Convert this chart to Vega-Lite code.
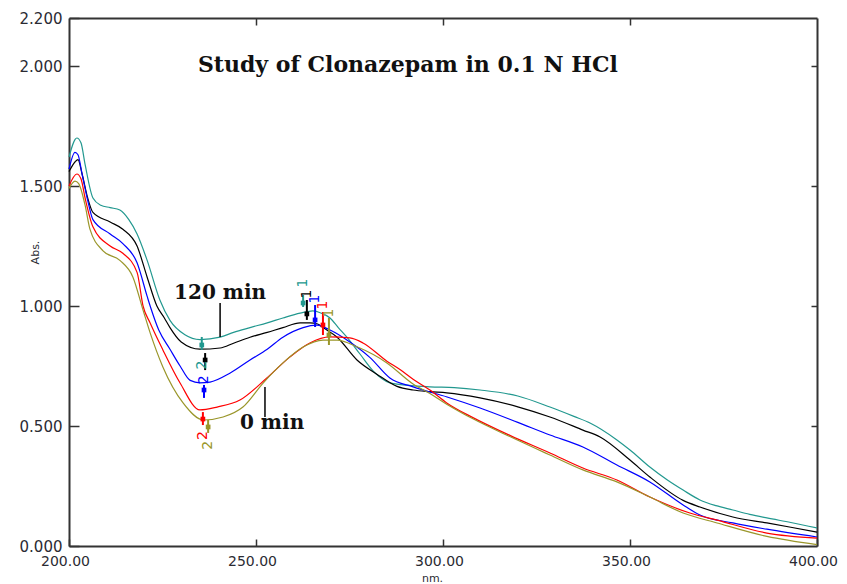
{
  "$schema": "https://vega.github.io/schema/vega-lite/v6.json",
  "width": 748,
  "height": 528,
  "autosize": "none",
  "padding": {"left": 69, "top": 18, "right": 30, "bottom": 38},
  "background": "white",
  "config": {
    "view": {"stroke": null},
    "axis": {
      "grid": false,
      "labelFlush": false,
      "domainColor": "#333333",
      "domainWidth": 2,
      "tickColor": "#333333",
      "tickWidth": 1.5,
      "labelFont": "DejaVu Sans",
      "labelFontSize": 15,
      "labelColor": "#2b2b33",
      "titleFont": "DejaVu Sans",
      "titleFontWeight": "normal",
      "titleColor": "#2b2b33"
    }
  },
  "datasets": {
    "spectra": [
      {"series": "120 min", "nm": 200.0, "abs": 1.62},
      {"series": "120 min", "nm": 202.1, "abs": 1.70},
      {"series": "120 min", "nm": 203.2, "abs": 1.68},
      {"series": "120 min", "nm": 204.3, "abs": 1.59},
      {"series": "120 min", "nm": 206.4, "abs": 1.45},
      {"series": "120 min", "nm": 208.5, "abs": 1.42},
      {"series": "120 min", "nm": 211.0, "abs": 1.41},
      {"series": "120 min", "nm": 213.6, "abs": 1.40},
      {"series": "120 min", "nm": 216.0, "abs": 1.36},
      {"series": "120 min", "nm": 218.2, "abs": 1.30},
      {"series": "120 min", "nm": 220.9, "abs": 1.19},
      {"series": "120 min", "nm": 224.3, "abs": 1.025},
      {"series": "120 min", "nm": 227.0, "abs": 0.94},
      {"series": "120 min", "nm": 231.0, "abs": 0.88},
      {"series": "120 min", "nm": 235.0, "abs": 0.86},
      {"series": "120 min", "nm": 240.4, "abs": 0.87},
      {"series": "120 min", "nm": 244.0, "abs": 0.89},
      {"series": "120 min", "nm": 248.4, "abs": 0.91},
      {"series": "120 min", "nm": 253.0, "abs": 0.93},
      {"series": "120 min", "nm": 257.2, "abs": 0.95},
      {"series": "120 min", "nm": 261.8, "abs": 0.97},
      {"series": "120 min", "nm": 265.2, "abs": 0.98},
      {"series": "120 min", "nm": 267.5, "abs": 0.97},
      {"series": "120 min", "nm": 269.8, "abs": 0.95},
      {"series": "120 min", "nm": 272.0, "abs": 0.91},
      {"series": "120 min", "nm": 274.3, "abs": 0.87},
      {"series": "120 min", "nm": 277.8, "abs": 0.80},
      {"series": "120 min", "nm": 281.3, "abs": 0.73},
      {"series": "120 min", "nm": 285.8, "abs": 0.68},
      {"series": "120 min", "nm": 290.4, "abs": 0.67},
      {"series": "120 min", "nm": 296.5, "abs": 0.663},
      {"series": "120 min", "nm": 303.0, "abs": 0.66},
      {"series": "120 min", "nm": 309.9, "abs": 0.65},
      {"series": "120 min", "nm": 320.0, "abs": 0.625},
      {"series": "120 min", "nm": 328.6, "abs": 0.579},
      {"series": "120 min", "nm": 335.0, "abs": 0.54},
      {"series": "120 min", "nm": 339.3, "abs": 0.5125},
      {"series": "120 min", "nm": 346.5, "abs": 0.442},
      {"series": "120 min", "nm": 350.0, "abs": 0.40},
      {"series": "120 min", "nm": 355.3, "abs": 0.329},
      {"series": "120 min", "nm": 360.0, "abs": 0.275},
      {"series": "120 min", "nm": 364.2, "abs": 0.233},
      {"series": "120 min", "nm": 368.7, "abs": 0.192},
      {"series": "120 min", "nm": 373.0, "abs": 0.168},
      {"series": "120 min", "nm": 377.5, "abs": 0.15},
      {"series": "120 min", "nm": 382.0, "abs": 0.132},
      {"series": "120 min", "nm": 386.6, "abs": 0.117},
      {"series": "120 min", "nm": 393.0, "abs": 0.098},
      {"series": "120 min", "nm": 400.0, "abs": 0.075},

      {"series": "run 4", "nm": 200.0, "abs": 1.56},
      {"series": "run 4", "nm": 201.6, "abs": 1.60},
      {"series": "run 4", "nm": 202.4, "abs": 1.61},
      {"series": "run 4", "nm": 203.5, "abs": 1.55},
      {"series": "run 4", "nm": 205.0, "abs": 1.45},
      {"series": "run 4", "nm": 206.4, "abs": 1.39},
      {"series": "run 4", "nm": 211.0, "abs": 1.35},
      {"series": "run 4", "nm": 214.4, "abs": 1.32},
      {"series": "run 4", "nm": 218.2, "abs": 1.25},
      {"series": "run 4", "nm": 220.9, "abs": 1.12},
      {"series": "run 4", "nm": 223.5, "abs": 1.00},
      {"series": "run 4", "nm": 225.5, "abs": 0.95},
      {"series": "run 4", "nm": 227.0, "abs": 0.91},
      {"series": "run 4", "nm": 230.0, "abs": 0.85},
      {"series": "run 4", "nm": 235.0, "abs": 0.82},
      {"series": "run 4", "nm": 240.4, "abs": 0.825},
      {"series": "run 4", "nm": 244.0, "abs": 0.845},
      {"series": "run 4", "nm": 248.4, "abs": 0.87},
      {"series": "run 4", "nm": 253.0, "abs": 0.89},
      {"series": "run 4", "nm": 257.2, "abs": 0.91},
      {"series": "run 4", "nm": 261.8, "abs": 0.93},
      {"series": "run 4", "nm": 264.4, "abs": 0.93},
      {"series": "run 4", "nm": 266.5, "abs": 0.925},
      {"series": "run 4", "nm": 267.9, "abs": 0.91},
      {"series": "run 4", "nm": 271.7, "abs": 0.87},
      {"series": "run 4", "nm": 277.0, "abs": 0.775},
      {"series": "run 4", "nm": 282.4, "abs": 0.715},
      {"series": "run 4", "nm": 287.7, "abs": 0.665},
      {"series": "run 4", "nm": 292.0, "abs": 0.65},
      {"series": "run 4", "nm": 296.5, "abs": 0.643},
      {"series": "run 4", "nm": 301.0, "abs": 0.638},
      {"series": "run 4", "nm": 309.9, "abs": 0.617},
      {"series": "run 4", "nm": 320.0, "abs": 0.58},
      {"series": "run 4", "nm": 328.6, "abs": 0.5375},
      {"series": "run 4", "nm": 337.4, "abs": 0.483},
      {"series": "run 4", "nm": 342.0, "abs": 0.454},
      {"series": "run 4", "nm": 350.0, "abs": 0.358},
      {"series": "run 4", "nm": 355.3, "abs": 0.2875},
      {"series": "run 4", "nm": 364.2, "abs": 0.19},
      {"series": "run 4", "nm": 368.7, "abs": 0.1625},
      {"series": "run 4", "nm": 377.5, "abs": 0.121},
      {"series": "run 4", "nm": 386.6, "abs": 0.096},
      {"series": "run 4", "nm": 393.0, "abs": 0.078},
      {"series": "run 4", "nm": 400.0, "abs": 0.058},

      {"series": "run 3", "nm": 200.0, "abs": 1.57},
      {"series": "run 3", "nm": 201.6, "abs": 1.64},
      {"series": "run 3", "nm": 202.4, "abs": 1.63},
      {"series": "run 3", "nm": 203.5, "abs": 1.55},
      {"series": "run 3", "nm": 205.0, "abs": 1.44},
      {"series": "run 3", "nm": 206.4, "abs": 1.36},
      {"series": "run 3", "nm": 211.0, "abs": 1.30},
      {"series": "run 3", "nm": 214.4, "abs": 1.26},
      {"series": "run 3", "nm": 218.2, "abs": 1.18},
      {"series": "run 3", "nm": 220.9, "abs": 1.04},
      {"series": "run 3", "nm": 221.7, "abs": 1.00},
      {"series": "run 3", "nm": 224.0, "abs": 0.90},
      {"series": "run 3", "nm": 227.0, "abs": 0.82},
      {"series": "run 3", "nm": 229.7, "abs": 0.75},
      {"series": "run 3", "nm": 232.4, "abs": 0.69},
      {"series": "run 3", "nm": 235.0, "abs": 0.68},
      {"series": "run 3", "nm": 237.7, "abs": 0.683},
      {"series": "run 3", "nm": 243.0, "abs": 0.72},
      {"series": "run 3", "nm": 248.4, "abs": 0.775},
      {"series": "run 3", "nm": 253.0, "abs": 0.82},
      {"series": "run 3", "nm": 257.2, "abs": 0.87},
      {"series": "run 3", "nm": 262.6, "abs": 0.91},
      {"series": "run 3", "nm": 266.3, "abs": 0.92},
      {"series": "run 3", "nm": 269.8, "abs": 0.90},
      {"series": "run 3", "nm": 275.1, "abs": 0.85},
      {"series": "run 3", "nm": 280.5, "abs": 0.785},
      {"series": "run 3", "nm": 285.8, "abs": 0.70},
      {"series": "run 3", "nm": 292.0, "abs": 0.663},
      {"series": "run 3", "nm": 301.1, "abs": 0.621},
      {"series": "run 3", "nm": 309.9, "abs": 0.575},
      {"series": "run 3", "nm": 320.0, "abs": 0.515},
      {"series": "run 3", "nm": 328.6, "abs": 0.4625},
      {"series": "run 3", "nm": 337.4, "abs": 0.4125},
      {"series": "run 3", "nm": 346.5, "abs": 0.3375},
      {"series": "run 3", "nm": 355.3, "abs": 0.267},
      {"series": "run 3", "nm": 364.2, "abs": 0.171},
      {"series": "run 3", "nm": 368.7, "abs": 0.129},
      {"series": "run 3", "nm": 377.5, "abs": 0.096},
      {"series": "run 3", "nm": 386.6, "abs": 0.07},
      {"series": "run 3", "nm": 400.0, "abs": 0.0375},

      {"series": "run 2", "nm": 200.0, "abs": 1.50},
      {"series": "run 2", "nm": 202.1, "abs": 1.55},
      {"series": "run 2", "nm": 203.2, "abs": 1.53},
      {"series": "run 2", "nm": 204.3, "abs": 1.45},
      {"series": "run 2", "nm": 206.4, "abs": 1.33},
      {"series": "run 2", "nm": 211.0, "abs": 1.25},
      {"series": "run 2", "nm": 214.4, "abs": 1.22},
      {"series": "run 2", "nm": 218.2, "abs": 1.14},
      {"series": "run 2", "nm": 219.8, "abs": 1.00},
      {"series": "run 2", "nm": 221.7, "abs": 0.929},
      {"series": "run 2", "nm": 225.1, "abs": 0.817},
      {"series": "run 2", "nm": 229.7, "abs": 0.679},
      {"series": "run 2", "nm": 235.0, "abs": 0.567},
      {"series": "run 2", "nm": 239.6, "abs": 0.579},
      {"series": "run 2", "nm": 245.7, "abs": 0.608},
      {"series": "run 2", "nm": 252.9, "abs": 0.70},
      {"series": "run 2", "nm": 259.1, "abs": 0.788},
      {"series": "run 2", "nm": 264.4, "abs": 0.846},
      {"series": "run 2", "nm": 269.8, "abs": 0.871},
      {"series": "run 2", "nm": 275.1, "abs": 0.867},
      {"series": "run 2", "nm": 278.6, "abs": 0.846},
      {"series": "run 2", "nm": 285.0, "abs": 0.77},
      {"series": "run 2", "nm": 288.5, "abs": 0.735},
      {"series": "run 2", "nm": 292.0, "abs": 0.695},
      {"series": "run 2", "nm": 296.5, "abs": 0.65},
      {"series": "run 2", "nm": 301.1, "abs": 0.595},
      {"series": "run 2", "nm": 308.0, "abs": 0.535},
      {"series": "run 2", "nm": 318.0, "abs": 0.46},
      {"series": "run 2", "nm": 328.6, "abs": 0.3875},
      {"series": "run 2", "nm": 337.4, "abs": 0.325},
      {"series": "run 2", "nm": 346.5, "abs": 0.275},
      {"series": "run 2", "nm": 355.3, "abs": 0.204},
      {"series": "run 2", "nm": 366.0, "abs": 0.1375},
      {"series": "run 2", "nm": 373.3, "abs": 0.108},
      {"series": "run 2", "nm": 386.6, "abs": 0.054},
      {"series": "run 2", "nm": 400.0, "abs": 0.033},

      {"series": "0 min", "nm": 200.0, "abs": 1.49},
      {"series": "0 min", "nm": 201.6, "abs": 1.52},
      {"series": "0 min", "nm": 202.6, "abs": 1.51},
      {"series": "0 min", "nm": 204.3, "abs": 1.42},
      {"series": "0 min", "nm": 205.6, "abs": 1.32},
      {"series": "0 min", "nm": 209.1, "abs": 1.23},
      {"series": "0 min", "nm": 213.6, "abs": 1.19},
      {"series": "0 min", "nm": 217.1, "abs": 1.12},
      {"series": "0 min", "nm": 219.8, "abs": 0.983},
      {"series": "0 min", "nm": 221.7, "abs": 0.888},
      {"series": "0 min", "nm": 225.1, "abs": 0.746},
      {"series": "0 min", "nm": 230.5, "abs": 0.596},
      {"series": "0 min", "nm": 236.0, "abs": 0.525},
      {"series": "0 min", "nm": 241.2, "abs": 0.5375},
      {"series": "0 min", "nm": 246.5, "abs": 0.579},
      {"series": "0 min", "nm": 251.9, "abs": 0.679},
      {"series": "0 min", "nm": 257.2, "abs": 0.763},
      {"series": "0 min", "nm": 262.6, "abs": 0.829},
      {"series": "0 min", "nm": 267.9, "abs": 0.858},
      {"series": "0 min", "nm": 271.7, "abs": 0.858},
      {"series": "0 min", "nm": 277.0, "abs": 0.83},
      {"series": "0 min", "nm": 285.0, "abs": 0.763},
      {"series": "0 min", "nm": 292.0, "abs": 0.675},
      {"series": "0 min", "nm": 296.5, "abs": 0.635},
      {"series": "0 min", "nm": 301.1, "abs": 0.59},
      {"series": "0 min", "nm": 308.0, "abs": 0.53},
      {"series": "0 min", "nm": 318.0, "abs": 0.455},
      {"series": "0 min", "nm": 328.6, "abs": 0.379},
      {"series": "0 min", "nm": 337.4, "abs": 0.317},
      {"series": "0 min", "nm": 346.5, "abs": 0.267},
      {"series": "0 min", "nm": 355.3, "abs": 0.204},
      {"series": "0 min", "nm": 364.2, "abs": 0.1375},
      {"series": "0 min", "nm": 373.3, "abs": 0.096},
      {"series": "0 min", "nm": 386.6, "abs": 0.04},
      {"series": "0 min", "nm": 400.0, "abs": 0.006}
    ],
    "markers": [
      {"series": "120 min", "nm": 235.5, "dot": 0.8375, "lo": 0.817, "hi": 0.871, "ly": 0.754, "label": "2"},
      {"series": "run 4", "nm": 236.4, "dot": 0.775, "lo": 0.733, "hi": 0.804, "ly": null, "label": null},
      {"series": "run 3", "nm": 236.1, "dot": 0.65, "lo": 0.617, "hi": 0.671, "ly": 0.692, "label": "2"},
      {"series": "run 2", "nm": 235.8, "dot": 0.529, "lo": 0.504, "hi": 0.558, "ly": 0.46, "label": "2"},
      {"series": "0 min", "nm": 237.2, "dot": 0.496, "lo": 0.471, "hi": 0.525, "ly": 0.42, "label": "2"},
      {"series": "120 min", "nm": 262.6, "dot": 1.0125, "lo": 0.996, "hi": 1.046, "ly": 1.096, "label": "1"},
      {"series": "run 4", "nm": 263.6, "dot": 0.967, "lo": 0.942, "hi": 1.025, "ly": 1.05, "label": "1"},
      {"series": "run 3", "nm": 265.8, "dot": 0.942, "lo": 0.9125, "hi": 1.004, "ly": 1.029, "label": "1"},
      {"series": "run 2", "nm": 267.9, "dot": 0.921, "lo": 0.879, "hi": 0.975, "ly": 1.004, "label": "1"},
      {"series": "0 min", "nm": 269.5, "dot": 0.879, "lo": 0.8375, "hi": 0.95, "ly": 0.971, "label": "1"}
    ],
    "notes": [
      {"text": "Study of Clonazepam in 0.1 N HCl", "nm": 290.6, "abs": 2.004, "size": "title"},
      {"text": "120 min", "nm": 240.4, "abs": 1.054, "size": "note"},
      {"text": "0 min", "nm": 254.3, "abs": 0.5125, "size": "note"}
    ],
    "leaders": [
      {"nm": 240.4, "top": 1.0125, "bottom": 0.871},
      {"nm": 252.4, "top": 0.6625, "bottom": 0.5375}
    ]
  },
  "layer": [
    {
      "data": {"name": "spectra"},
      "mark": {"type": "line", "strokeWidth": 1.2, "interpolate": "monotone"},
      "encoding": {
        "x": {"field": "nm", "type": "quantitative", "scale": {"domain": [200, 400], "nice": false, "zero": false},
          "axis": {"orient": "bottom", "values": [200, 250, 300, 350, 400], "format": ".2f", "tickSize": -7, "labelPadding": 15, "labelFontSize": 14, "labelOffset": -4,
            "title": "nm.", "titleFontSize": 11, "titleX": 363, "titleY": 35, "titleAnchor": null, "titleBaseline": "alphabetic"}},
        "y": {"field": "abs", "type": "quantitative", "scale": {"domain": [0, 2.2], "nice": false, "zero": false},
          "axis": {"orient": "left", "values": [0, 0.5, 1, 1.5, 2, 2.2], "format": ".3f", "tickSize": -10, "labelPadding": 17,
            "title": "Abs.", "titleFontSize": 11, "titleX": -34, "titleY": 234, "titleAngle": -90, "titleAlign": "center", "titleBaseline": "middle"}},
        "color": {"field": "series", "type": "nominal",
          "scale": {"domain": ["120 min", "run 4", "run 3", "run 2", "0 min"], "range": ["#22988f", "#000000", "#0000ff", "#ff0000", "#9a962a"]},
          "legend": null},
        "detail": {"field": "series"}
      }
    },
    {
      "data": {"name": "markers"},
      "mark": {"type": "rule", "strokeWidth": 2},
      "encoding": {
        "x": {"field": "nm", "type": "quantitative", "scale": {"domain": [200, 400], "nice": false, "zero": false},
          "axis": {"orient": "top", "values": [250, 300, 350], "labels": false, "tickSize": -7, "title": null}},
        "y": {"field": "lo", "type": "quantitative", "scale": {"domain": [0, 2.2], "nice": false, "zero": false},
          "axis": {"orient": "right", "values": [0.5, 1, 1.5, 2], "labels": false, "tickSize": -6, "title": null}},
        "y2": {"field": "hi"},
        "color": {"field": "series", "type": "nominal", "legend": null}
      }
    },
    {
      "data": {"name": "markers"},
      "mark": {"type": "point", "shape": "square", "filled": true, "size": 22, "opacity": 1},
      "encoding": {
        "x": {"field": "nm", "type": "quantitative", "scale": {"domain": [200, 400], "nice": false, "zero": false}, "axis": null},
        "y": {"field": "dot", "type": "quantitative", "scale": {"domain": [0, 2.2], "nice": false, "zero": false}, "axis": null},
        "color": {"field": "series", "type": "nominal", "legend": null}
      }
    },
    {
      "data": {"name": "markers"},
      "transform": [{"filter": "datum.label != null"}],
      "mark": {"type": "text", "angle": 270, "font": "DejaVu Sans", "fontSize": 14, "align": "center", "baseline": "middle"},
      "encoding": {
        "x": {"field": "nm", "type": "quantitative", "scale": {"domain": [200, 400], "nice": false, "zero": false}, "axis": null},
        "y": {"field": "ly", "type": "quantitative", "scale": {"domain": [0, 2.2], "nice": false, "zero": false}, "axis": null},
        "text": {"field": "label"},
        "color": {"field": "series", "type": "nominal", "legend": null}
      }
    },
    {
      "data": {"name": "leaders"},
      "mark": {"type": "rule", "color": "#000000", "strokeWidth": 1.5},
      "encoding": {
        "x": {"field": "nm", "type": "quantitative", "scale": {"domain": [200, 400], "nice": false, "zero": false}, "axis": null},
        "y": {"field": "top", "type": "quantitative", "scale": {"domain": [0, 2.2], "nice": false, "zero": false}, "axis": null},
        "y2": {"field": "bottom"}
      }
    },
    {
      "data": {"name": "notes"},
      "mark": {"type": "text", "font": "DejaVu Serif", "fontWeight": "bold", "color": "#111111", "align": "center", "baseline": "middle"},
      "encoding": {
        "x": {"field": "nm", "type": "quantitative", "scale": {"domain": [200, 400], "nice": false, "zero": false}, "axis": null},
        "y": {"field": "abs", "type": "quantitative", "scale": {"domain": [0, 2.2], "nice": false, "zero": false}, "axis": null},
        "text": {"field": "text"},
        "size": {"field": "size", "type": "nominal", "scale": {"domain": ["title", "note"], "range": [22, 20]}, "legend": null}
      }
    }
  ],
  "resolve": {"axis": {"x": "independent", "y": "independent"}}
}
